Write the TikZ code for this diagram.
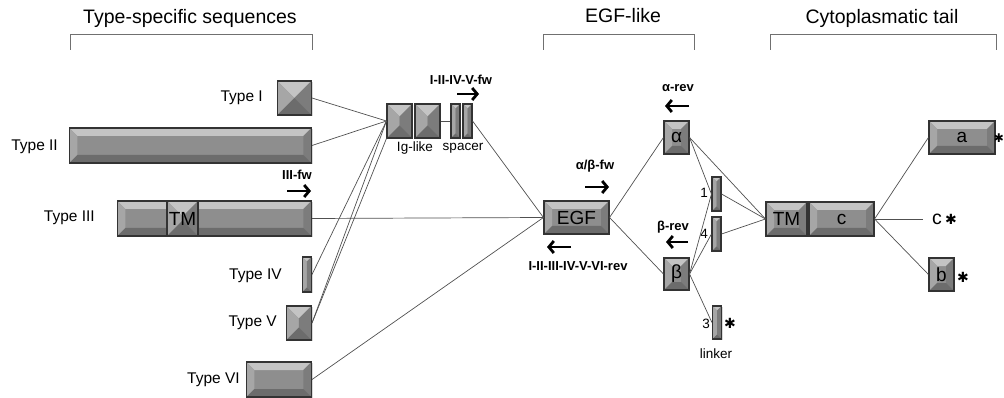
\documentclass[tikz,border=0pt]{standalone}
\usepackage{fontspec}
\setmainfont{Liberation Sans}
\newfontfamily\symbolfont{DejaVu Sans}
\usetikzlibrary{arrows.meta,shadows,calc}

\definecolor{exonmid}{HTML}{8E8E8E}
\definecolor{exontop}{HTML}{C4C4C4}
\definecolor{exonleft}{HTML}{A6A6A6}
\definecolor{exonright}{HTML}{7C7C7C}
\definecolor{exonbottom}{HTML}{6C6C6C}
\definecolor{exonline}{HTML}{333333}
\definecolor{linkgray}{HTML}{505050}
\definecolor{bracketgray}{HTML}{707070}

\tikzset{
  bevel/.store in=\bevdepth, bevel=8pt,
  dims/.style 2 args={minimum width=#1pt, minimum height=#2pt},
  % grey exon block with a bevelled rim
  exon/.style={draw=exonline, line width=1.1pt, fill=exonmid, inner sep=0pt,
    font=\fontsize{19}{21}\selectfont,
    drop shadow={shadow xshift=1.3pt, shadow yshift=-1.3pt, opacity=0.3},
    path picture={
      \path let \p1=(path picture bounding box.south west),
                \p2=(path picture bounding box.north east),
                \n1={min(\bevdepth,0.5*min(\x2-\x1,\y2-\y1))} in
        (\x1+\n1,\y1+\n1) coordinate (iSW) (\x2-\n1,\y1+\n1) coordinate (iSE)
        (\x2-\n1,\y2-\n1) coordinate (iNE) (\x1+\n1,\y2-\n1) coordinate (iNW);
      \fill[exontop] (path picture bounding box.north west) -- (path picture bounding box.north east) -- (iNE) -- (iNW) -- cycle;
      \fill[exonleft] (path picture bounding box.north west) -- (iNW) -- (iSW) -- (path picture bounding box.south west) -- cycle;
      \fill[exonright] (path picture bounding box.north east) -- (iNE) -- (iSE) -- (path picture bounding box.south east) -- cycle;
      \fill[exonbottom] (path picture bounding box.south west) -- (iSW) -- (iSE) -- (path picture bounding box.south east) -- cycle;
    }},
  link/.style={draw=linkgray, line width=0.7pt},
  bracket/.style={draw=bracketgray, line width=0.8pt},
  primer/.style={line width=2.8pt, -{Straight Barb[length=5pt,width=12pt]}},
  primertext/.style={font=\bfseries\fontsize{13}{15}\selectfont, inner sep=0pt},
  header/.style={font=\fontsize{19.5}{21}\selectfont, inner sep=0pt},
  typelabel/.style={font=\fontsize{15.5}{17}\selectfont, anchor=east, inner sep=0pt},
  sublabel/.style={font=\fontsize{13.5}{15}\selectfont, inner sep=0pt},
  starmark/.style={font=\symbolfont\fontsize{14}{15}\selectfont, inner sep=0pt},
}

\begin{document}
\begin{tikzpicture}[x=1pt,y=-1pt]
\useasboundingbox (0,0) rectangle (1004,398);

% section headers
\node[header] (hdType) at (190,18) {Type-specific sequences};
\node[header] (hdEgf) at (623,16) {EGF-like};
\node[header] (hdTail) at (882,18) {Cytoplasmatic tail};
\draw[bracket] (70,50) |- (312,34) -- (312,50);
\draw[bracket] (543,50) |- (694,34) -- (694,50);
\draw[bracket] (770,50) |- (996,34) -- (996,50);

% type-specific exons
\node[exon, dims={34}{34}, bevel=40pt, anchor=east] (typeI) at (312,98) {};
\node[exon, dims={242}{35}, anchor=east] (typeII) at (312,145.5) {};
\node[exon, dims={194}{35}, anchor=east] (typeIII) at (312,218.5) {};
\node[exon, dims={31}{35}, bevel=40pt] (tmIII) at (182.5,218.5) {TM};
\node[exon, dims={9}{35}, anchor=east] (typeIV) at (312,274.5) {};
\node[exon, dims={25}{34}, bevel=40pt, anchor=east] (typeV) at (312,323) {};
\node[exon, dims={65}{35}, anchor=east] (typeVI) at (312,379.5) {};

\node[typelabel] (lblI) at (263,98) {Type I};
\node[typelabel] (lblII) at (58,147) {Type II};
\node[typelabel] (lblIII) at (95,218) {Type III};
\node[typelabel] (lblIV) at (282,276) {Type IV};
\node[typelabel] (lblV) at (277,323) {Type V};
\node[typelabel] (lblVI) at (240,380) {Type VI};

% Ig-like domain and spacer
\node[exon, dims={25}{34}, bevel=40pt] (ig1) at (399.5,121) {};
\node[exon, dims={25}{34}, bevel=40pt] (ig2) at (427.5,121) {};
\node[exon, dims={9}{34}] (sp1) at (455.5,121) {};
\node[exon, dims={9}{34}] (sp2) at (467.5,121) {};
\node[sublabel] (lblIg) at (415,148) {Ig-like};
\node[sublabel] (lblSp) at (463,148) {spacer};

% EGF-like domain and linkers
\node[exon, dims={65}{33}] (egf) at (576.5,217.5) {EGF};
\node[exon, dims={25}{33}] (alpha) at (676.5,137.5) {α};
\node[exon, dims={25}{32}] (beta) at (676.5,274) {β};
\node[exon, dims={9}{34}] (lnkI) at (716.5,194) {};
\node[exon, dims={9}{34}] (lnkIV) at (716.5,234) {};
\node[exon, dims={9}{33}] (lnkIII) at (717,322.5) {};
\node[sublabel] (numI) at (704,193) {1};
\node[sublabel] (numIV) at (704,234) {4};
\node[sublabel] (numIII) at (706,324) {3};
\node[starmark] (starIII) at (730,323) {✱};
\node[sublabel] (lblLnk) at (716,354) {linker};

% cytoplasmatic tail
\node[exon, dims={41}{34}] (tm) at (786.5,219) {TM};
\node[exon, dims={65}{34}] (exc) at (841.5,219) {c};
\node[exon, dims={66}{33}] (exa) at (962,137.5) {a};
\node[exon, dims={25}{33}] (exb) at (941.5,274.5) {b};
\coordinate (cend) at (923,219);
\node[header, anchor=west] (cstar) at (932,219) {c\,{\symbolfont\fontsize{14}{15}\selectfont ✱}};
\node[starmark, font=\symbolfont\fontsize{12}{13}\selectfont] (starA) at (999,138) {✱};
\node[starmark] (starB) at (963,277) {✱};

% primers
\node[primertext] (fwI) at (461,80) {I-II-IV-V-fw};
\node[primertext] (fwIII) at (297,175) {III-fw};
\node[primertext] (fwAB) at (595,166) {α/β-fw};
\node[primertext] (revAll) at (578,266) {I-II-III-IV-V-VI-rev};
\node[primertext] (revA) at (678,88) {α-rev};
\node[primertext] (revB) at (673,227) {β-rev};
\coordinate (fwIa) at (457,94);   \coordinate (fwIb) at (479,94);
\coordinate (fwIIIa) at (287,191); \coordinate (fwIIIb) at (311,191);
\coordinate (fwABa) at (585,187); \coordinate (fwABb) at (609,187);
\coordinate (revAlla) at (571,247); \coordinate (revAllb) at (547,247);
\coordinate (revAa) at (689,106); \coordinate (revAb) at (665,106);
\coordinate (revBa) at (688,242); \coordinate (revBb) at (666,242);
\draw[primer] (fwIa) -- (fwIb);
\draw[primer] (fwIIIa) -- (fwIIIb);
\draw[primer] (fwABa) -- (fwABb);
\draw[primer] (revAlla) -- (revAllb);
\draw[primer] (revAa) -- (revAb);
\draw[primer] (revBa) -- (revBb);

% splice connections
\draw[link] (typeI.east) -- (ig1.west);
\draw[link] (typeII.east) -- (ig1.west);
\draw[link] (typeIV.east) -- (ig1.west);
\draw[link] (typeV.east) -- (ig1.west);
\draw[link] (typeV.east) -- (ig1.south west);
\draw[link] (ig2.east) -- (sp1.west);
\draw[link] (typeIII.east) -- (egf.west);
\draw[link] (typeVI.east) -- (egf.west);
\draw[link] (sp2.east) -- (egf.west);
\draw[link] (egf.east) -- (alpha.west);
\draw[link] (egf.east) -- (beta.west);
\draw[link] (alpha.east) -- (lnkI.west);
\draw[link] (alpha.east) -- (tm.west);
\draw[link] (beta.east) -- (lnkI.west);
\draw[link] (beta.east) -- (lnkIV.west);
\draw[link] (beta.east) -- (lnkIII.west);
\draw[link] (lnkI.east) -- (tm.west);
\draw[link] (lnkIV.east) -- (tm.west);
\draw[link] (exc.east) -- (exa.west);
\draw[link] (exc.east) -- (cend);
\draw[link] (exc.east) -- (exb.west);
\end{tikzpicture}
\end{document}
